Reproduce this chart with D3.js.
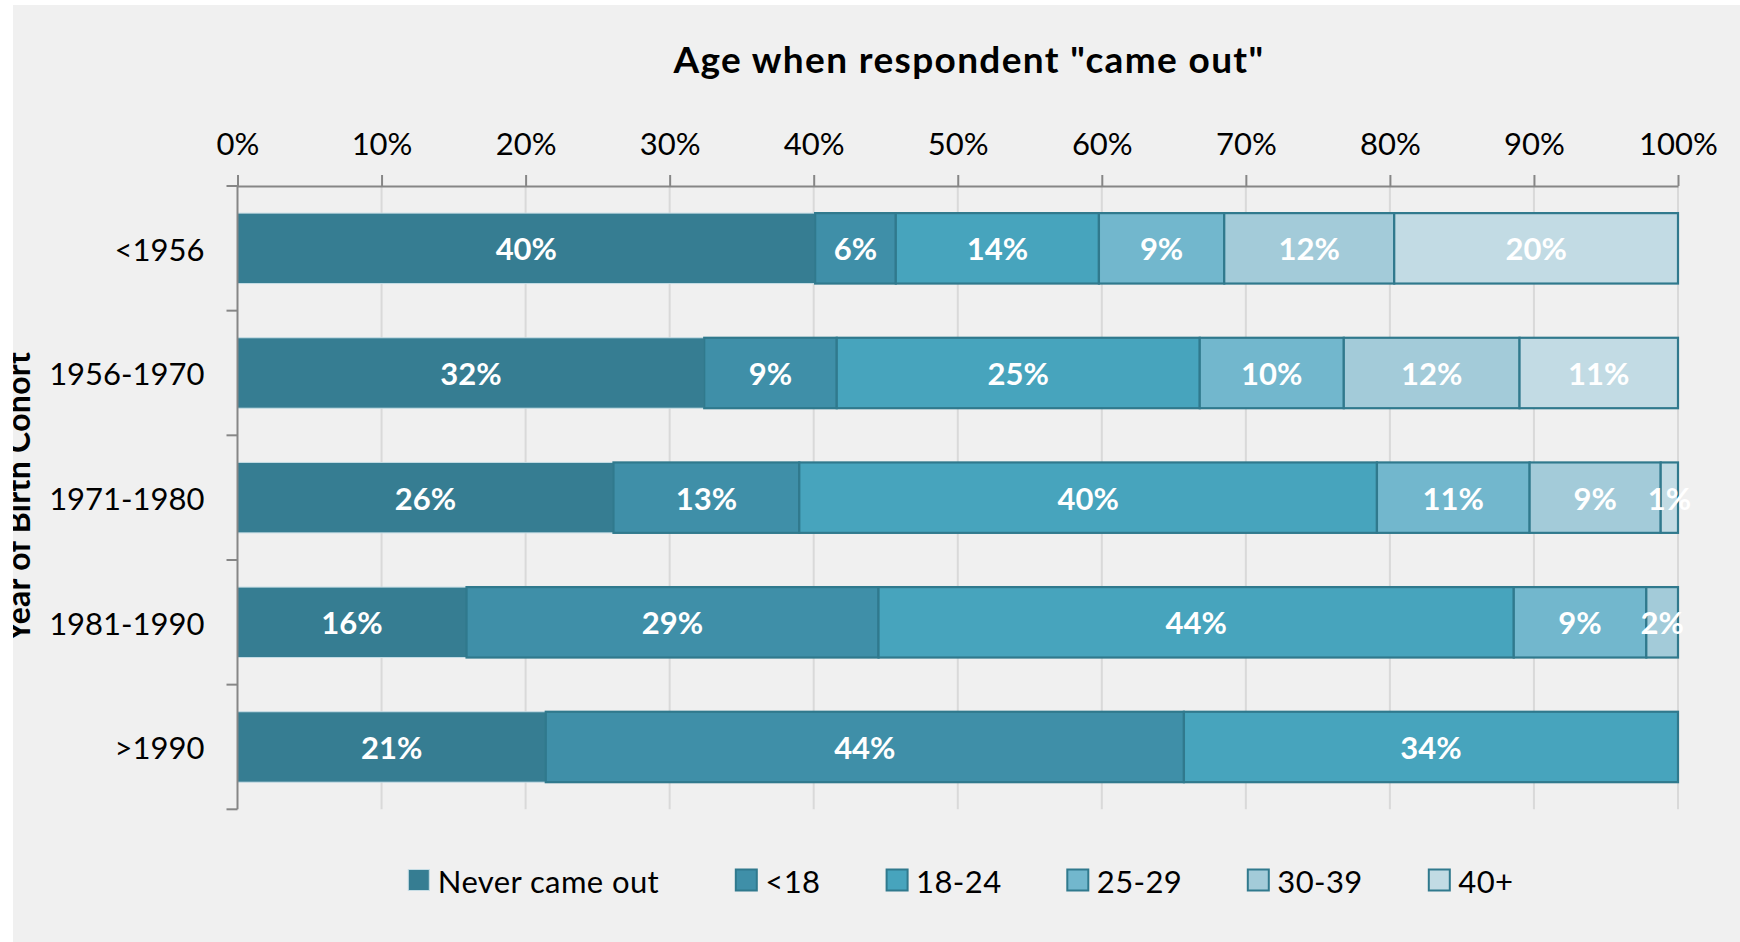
<!DOCTYPE html>
<html><head><meta charset="utf-8">
<script src="https://cdn.jsdelivr.net/npm/d3@7"></script>
<style>
html,body{margin:0;padding:0;background:#fff;}
svg{display:block;font-family:Lato,"Open Sans",sans-serif;}
</style>
</head><body>
<svg id="chart" width="1740" height="942"></svg>
<script>
// ---- data ----
const categories = ["<1956", "1956-1970", "1971-1980", "1981-1990", ">1990"];
const seriesNames = ["Never came out", "<18", "18-24", "25-29", "30-39", "40+"];
const neverCameOut = [40.1, 32.4, 26.1, 15.9, 21.4];
const under18      = [5.6, 9.2, 12.9, 28.6, 44.3];
const age18to24    = [14.1, 25.2, 40.1, 44.1, 34.3];
const age25to29    = [8.7, 10.0, 10.6, 9.2, 0];
const age30to39    = [11.8, 12.2, 9.1, 2.2, 0];
const age40plus    = [19.7, 11.0, 1.2, 0, 0];
const xTicks = [0, 10, 20, 30, 40, 50, 60, 70, 80, 90, 100];
const titleText = 'Age when respondent "came out"';
const yTitleText = "Year of Birth Cohort";

const seriesValues = [neverCameOut, under18, age18to24, age25to29, age30to39, age40plus];
const colors = ["#367d92", "#3f8fa8", "#47a4bd", "#72b7cd", "#a3cbd9", "#c2dbe4"];
const strokeDark = "#30798d";

const rows = categories.map((c, i) => {
  const o = {cat: c};
  seriesNames.forEach((s, j) => o[s] = seriesValues[j][i]);
  return o;
});
const stacked = d3.stack().keys(seriesNames)(rows);

// ---- layout ----
const svg = d3.select("#chart");
const W = 1740, H = 942;
const panel = {x: 13, y: 5};
svg.append("defs").append("clipPath").attr("id", "pclip")
  .append("rect").attr("x", panel.x).attr("y", panel.y)
  .attr("width", W - panel.x).attr("height", H - panel.y);
svg.append("rect").attr("x", panel.x).attr("y", panel.y)
  .attr("width", W - panel.x).attr("height", H - panel.y).attr("fill", "#f0f0f0");

const g = svg.append("g").attr("clip-path", "url(#pclip)");

const x = d3.scaleLinear().domain([0, 100]).range([237.5, 1678]);
const y = d3.scaleBand().domain(categories).range([186, 809.3])
  .paddingInner(0.435).paddingOuter(0.2175);

// gridlines
g.append("g").selectAll("line").data(xTicks.filter(d => d > 0)).join("line")
  .attr("x1", d => x(d)).attr("x2", d => x(d))
  .attr("y1", y.range()[0]).attr("y2", y.range()[1])
  .attr("stroke", "#d9d9d9").attr("stroke-width", 2);

// bars
const layer = g.append("g").selectAll("g").data(stacked).join("g")
  .attr("fill", (d, i) => colors[i]);
layer.selectAll("rect").data((d, i) => d.map(v => ({v, i})).filter(o => o.v[1] - o.v[0] > 0))
  .join("rect")
  .attr("x", o => x(o.v[0]))
  .attr("width", o => x(o.v[1]) - x(o.v[0]))
  .attr("y", o => y(o.v.data.cat))
  .attr("height", y.bandwidth())
  .attr("stroke", o => o.i === 0 ? "#c6dde5" : strokeDark)
  .attr("stroke-width", o => o.i === 0 ? 1 : 2.2);

// data labels
const labels = g.append("g").attr("fill", "#fff").attr("font-weight", 700)
  .attr("font-size", 31).attr("text-anchor", "middle");
stacked.forEach((s, i) => {
  s.forEach(v => {
    const val = v[1] - v[0];
    if (val <= 0) return;
    labels.append("text")
      .attr("x", (x(v[0]) + x(v[1])) / 2)
      .attr("y", y(v.data.cat) + y.bandwidth() / 2 + 12)
      .text(Math.round(val) + "%");
  });
});

// top axis
const axisTop = g.append("g").attr("transform", `translate(0,${y.range()[0]})`)
  .call(d3.axisTop(x).tickValues(xTicks).tickFormat(d => d + "%").tickSize(11).tickPadding(20).tickSizeOuter(0));
axisTop.select(".domain").attr("stroke", "#868686").attr("stroke-width", 2);
axisTop.selectAll(".tick line").attr("stroke", "#868686").attr("stroke-width", 2);
axisTop.selectAll(".tick text").attr("fill", "#000").attr("font-size", 31)
  .attr("font-family", "Lato, 'Open Sans', sans-serif").attr("dy", 0);

// left axis (category labels)
const axisLeft = g.append("g").attr("transform", `translate(${x(0)},0)`)
  .call(d3.axisLeft(y).tickSize(0).tickPadding(33));
axisLeft.select(".domain").remove();
axisLeft.selectAll(".tick text").attr("fill", "#000").attr("font-size", 31)
  .attr("font-family", "Lato, 'Open Sans', sans-serif").attr("dy", 12.5);
// left axis line and boundary ticks
const bounds = d3.range(categories.length + 1).map(i => y.range()[0] + i * y.step());
g.append("line").attr("x1", x(0)).attr("x2", x(0))
  .attr("y1", y.range()[0] - 1).attr("y2", y.range()[1])
  .attr("stroke", "#868686").attr("stroke-width", 2);
g.append("g").selectAll("line").data(bounds).join("line")
  .attr("x1", x(0) - 11).attr("x2", x(0)).attr("y1", d => d).attr("y2", d => d)
  .attr("stroke", "#868686").attr("stroke-width", 2);

// fit helper: spread letters so text reaches a target width
function fitWidth(sel, target) {
  const w = sel.node().getComputedTextLength();
  const n = sel.text().length;
  if (n > 1) sel.attr("letter-spacing", (target - w) / n);
}

// title
const title = g.append("text").attr("x", 969).attr("y", 72.5).attr("text-anchor", "middle")
  .attr("font-weight", 700).attr("font-size", 37).attr("fill", "#000").text(titleText);
fitWidth(title, 591);

// y axis title (clipped by panel edge as in reference)
const yTitle = g.append("text").attr("transform", "translate(30,496.7) rotate(-90)")
  .attr("text-anchor", "middle").attr("font-weight", 700).attr("font-size", 32)
  .attr("fill", "#000").text(yTitleText);
fitWidth(yTitle, 290);

// legend: items laid out on a point scale spanning the legend row
const legendStarts = [408.3, 735.8, 886.6, 1067.3, 1247.8, 1428.8];
const legend = g.append("g").attr("font-size", 31).attr("fill", "#000").attr("letter-spacing", 0.4);
seriesNames.forEach((s, i) => {
  const it = legend.append("g").attr("transform", `translate(${legendStarts[i]},880.5)`);
  it.append("rect").attr("x", 0).attr("y", -11).attr("width", 21).attr("height", 21)
    .attr("fill", colors[i])
    .attr("stroke", i === 0 ? "#c6dde5" : strokeDark).attr("stroke-width", i === 0 ? 1 : 2);
  it.append("text").attr("x", 29.5).attr("y", 12).text(s);
});
</script>
</body></html>
